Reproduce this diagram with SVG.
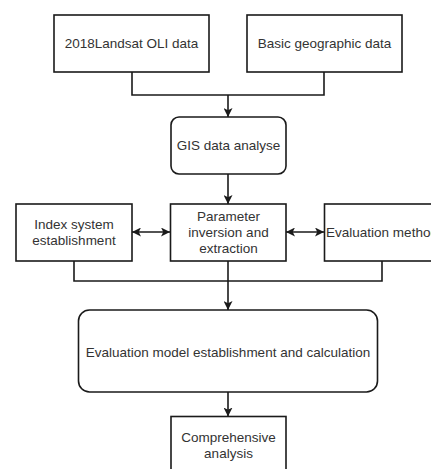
<svg xmlns="http://www.w3.org/2000/svg" width="431" height="469" viewBox="0 0 431 469">
<style>
.box{fill:#fff;stroke:#1a1a1a;stroke-width:1.6}
.lbl{font-family:"Liberation Sans",Arial,sans-serif;font-size:13.5px;fill:#333;text-anchor:middle}
.con{fill:none;stroke:#1a1a1a;stroke-width:1.6}
</style>
<defs>
<marker id="ah" viewBox="0 0 10 10" refX="10" refY="5" markerWidth="9" markerHeight="9" markerUnits="userSpaceOnUse" orient="auto-start-reverse">
<path d="M0,0 L10,5 L0,10 L2.5,5 Z" fill="#1a1a1a"/>
</marker>
</defs>
<rect width="431" height="469" fill="#fff"/>
<g id="connectors">
<path class="con" d="M132,72 V95 H324 V72"/>
<path class="con" d="M228,95 V117" marker-end="url(#ah)"/>
<path class="con" d="M228,174 V204" marker-end="url(#ah)"/>
<path class="con" d="M132,232 H170" marker-start="url(#ah)" marker-end="url(#ah)"/>
<path class="con" d="M286,232 H324" marker-start="url(#ah)" marker-end="url(#ah)"/>
<path class="con" d="M74,261 V281 H382 V261"/>
<path class="con" d="M228,261 V310" marker-end="url(#ah)"/>
<path class="con" d="M228,392 V416.5" marker-end="url(#ah)"/>
</g>
<g id="landsat">
<rect class="box" x="54" y="15" width="155" height="57"/>
<text class="lbl" x="131.5" y="48">2018Landsat OLI data</text>
</g>
<g id="geographic">
<rect class="box" x="247" y="15" width="155" height="57"/>
<text class="lbl" x="324.5" y="48">Basic geographic data</text>
</g>
<g id="gis">
<rect class="box" x="171" y="117" width="115" height="57" rx="8" ry="8"/>
<text class="lbl" x="228.5" y="150">GIS data analyse</text>
</g>
<g id="index">
<rect class="box" x="16" y="204" width="116" height="57"/>
<text class="lbl" x="74" y="229">Index system</text>
<text class="lbl" x="74" y="245">establishment</text>
</g>
<g id="parameter">
<rect class="box" x="170.5" y="204" width="115.5" height="57"/>
<text class="lbl" x="228.5" y="221">Parameter</text>
<text class="lbl" x="228.5" y="237">inversion and</text>
<text class="lbl" x="228.5" y="253">extraction</text>
</g>
<g id="method">
<rect class="box" x="324.5" y="204" width="116" height="57"/>
<text class="lbl" x="382" y="237">Evaluation method</text>
</g>
<g id="model">
<rect class="box" x="78.5" y="310" width="299" height="82" rx="11" ry="11"/>
<text class="lbl" x="228" y="356.5">Evaluation model establishment and calculation</text>
</g>
<g id="comprehensive">
<rect class="box" x="171" y="416.5" width="115" height="58"/>
<text class="lbl" x="228.5" y="442">Comprehensive</text>
<text class="lbl" x="228.5" y="458">analysis</text>
</g>
</svg>
